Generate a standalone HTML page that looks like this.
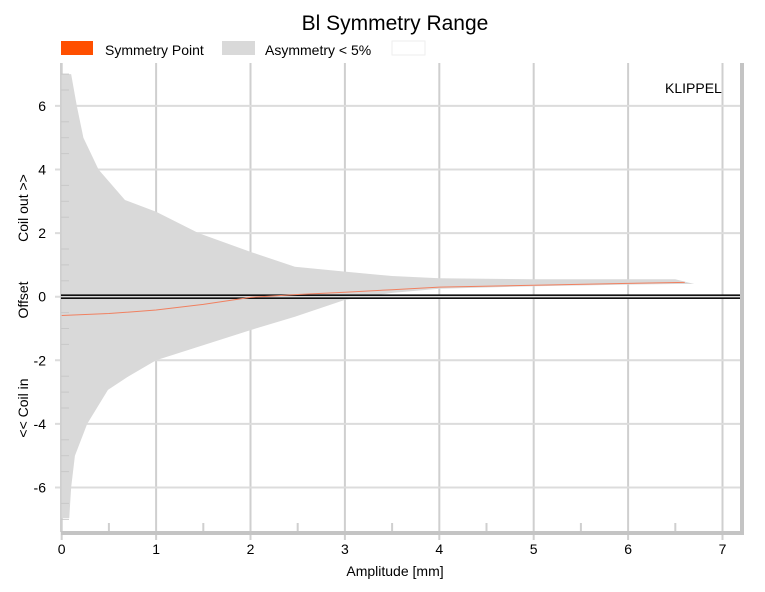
<!DOCTYPE html>
<html><head><meta charset="utf-8"><style>
body{margin:0;background:#fff;font-family:"Liberation Sans",sans-serif}
svg text{font-family:"Liberation Sans",sans-serif}
</style></head><body>
<svg width="765" height="587">
<text x="395" y="30" font-size="21" text-anchor="middle">Bl Symmetry Range</text>
<g>
<rect x="61" y="41" width="32" height="14" fill="#ff4f00"/>
<text x="105" y="55" font-size="14">Symmetry Point</text>
<rect x="222" y="41" width="33" height="14" fill="#d9d9d9"/>
<text x="265" y="55" font-size="14">Asymmetry &lt; 5%</text>
<rect x="392" y="41" width="33" height="14" fill="#fff" stroke="#eee"/>
</g>
<g id="grid"></g>
<g id="marks"></g>
<text x="665" y="93" font-size="14">KLIPPEL</text>
<text x="395" y="576" font-size="14" text-anchor="middle">Amplitude [mm]</text>
<text transform="translate(28,208) rotate(-90)" font-size="14" text-anchor="middle">Coil out &gt;&gt;</text>
<text transform="translate(28,300) rotate(-90)" font-size="14" text-anchor="middle">Offset</text>
<text transform="translate(28,408) rotate(-90)" font-size="14" text-anchor="middle">&lt;&lt; Coil in</text>
</svg>
<script>
const xTicks=[0,1,2,3,4,5,6,7];
const yTicks=[-6,-4,-2,0,2,4,6];
const upAmp=[0,0.1,0.16,0.23,0.39,0.67,1,1.45,2,2.47,3,3.5,4,5,6,6.5,6.7];
const upper=[7,7,6,5,4,3.04,2.67,2,1.41,0.94,0.79,0.65,0.58,0.55,0.55,0.55,0.4];
const loAmp=[0,0.08,0.1,0.14,0.27,0.49,0.71,1,2,2.47,3,3.5,4,5,6,6.5,6.7];
const lower=[-6.96,-6.96,-6,-5,-4,-2.93,-2.5,-2,-1.05,-0.63,-0.1,0.12,0.25,0.33,0.38,0.4,0.4];
const symAmp=[0,0.5,1,1.5,2,2.5,3,3.5,4,5,6,6.6];
const symVal=[-0.59,-0.53,-0.42,-0.24,-0.02,0.07,0.14,0.22,0.3,0.36,0.42,0.45];
const L=61,R=742,T=63,B=532;
const sx=v=>61.7+v*94.4, sy=v=>296.7-v*31.8;
const ns="http://www.w3.org/2000/svg";
const g=document.getElementById('grid'), m=document.getElementById('marks');
function mk(p,tag,a){const e=document.createElementNS(ns,tag);for(const k in a)e.setAttribute(k,a[k]);p.appendChild(e);return e;}
xTicks.forEach(v=>{const l=mk(g,'line',{x1:sx(v),x2:sx(v),y1:T,y2:B+8,stroke:'#cfcfcf','stroke-width':2});


const t=mk(g,'text',{x:sx(v),y:B+22,'font-size':14,'text-anchor':'middle'});t.textContent=v;

});
for(let v=0.5;v<7;v+=1){const l=mk(g,'line',{x1:sx(v),x2:sx(v),y1:B-9,y2:B,stroke:'#cfcfcf','stroke-width':2});

}
yTicks.forEach(v=>{const l=mk(g,'line',{x1:L-6,x2:R,y1:sy(v),y2:sy(v),stroke:'#dcdcdc','stroke-width':2});


const t=mk(g,'text',{x:L-15,y:sy(v)+5,'font-size':14,'text-anchor':'end'});t.textContent=v;

});
const left=mk(g,'line',{x1:L,x2:L,y1:T,y2:B,stroke:'#cfcfcf','stroke-width':2});


const fr=mk(g,'path',{d:`M${L} ${B+1}H${R}V${T}`,fill:'none',stroke:'#c4c4c4','stroke-width':4});


let d='M'+upAmp.map((a,i)=>sx(a)+' '+sy(upper[i])).join('L');
for(let i=loAmp.length-1;i>=0;i--)d+='L'+sx(loAmp[i])+' '+sy(lower[i]);
const area=mk(m,'path',{d:d+'Z',fill:'#d9d9d9'});


for(let v=-7;v<=7;v+=0.5){if(Number.isInteger(v/2))continue;const l=mk(m,'line',{x1:L,x2:L+8,y1:sy(v),y2:sy(v),stroke:'#c8c8c8','stroke-width':1});

}
[-1.5,1.5].forEach(o=>{const l=mk(m,'line',{x1:L,x2:R-2,y1:sy(0)+o,y2:sy(0)+o,stroke:'#111','stroke-width':1.6});

});
const sl=mk(m,'polyline',{points:symAmp.map((a,i)=>sx(a)+','+sy(symVal[i])).join(' '),fill:'none',stroke:'#f08060','stroke-width':1});


</script>
</body></html>
